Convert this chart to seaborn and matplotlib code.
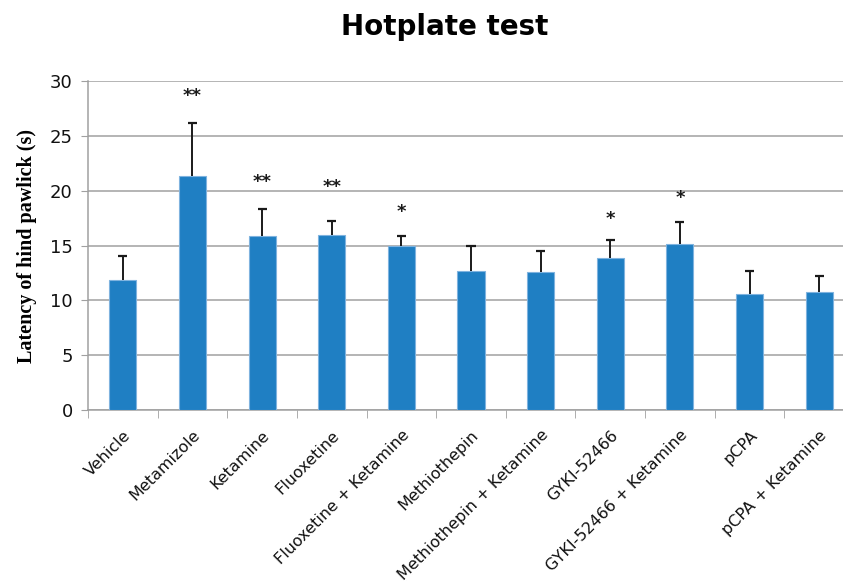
import pandas as pd
import matplotlib.pyplot as plt
import seaborn as sns
import numpy as np

# values
groups = ["Vehicle", "Metamizole", "Ketamine", "Fluoxetine", "Fluoxetine + Ketamine",
          "Methiothepin", "Methiothepin + Ketamine", "GYKI-52466", "GYKI-52466 + Ketamine",
          "pCPA", "pCPA + Ketamine"]
latency = [11.9, 21.35, 15.85, 15.95, 14.95, 12.7, 12.6, 13.9, 15.1, 10.55, 10.8]
sem = [2.1, 4.85, 2.45, 1.25, 0.9, 2.25, 1.9, 1.6, 2.0, 2.1, 1.45]
stars = ["", "**", "**", "**", "*", "", "", "*", "*", "", ""]
star_y = [0, 28.6, 20.8, 20.3, 18.1, 0, 0, 17.4, 19.3, 0, 0]

df = pd.DataFrame({"group": groups, "latency": latency, "sem": sem})
df["top"] = df["latency"] + df["sem"]

sns.set_style("white")
plt.rcParams['font.family'] = ['DejaVu Sans']

fig = plt.figure(figsize=(8.43, 5.86), dpi=100)
ax = fig.add_axes([0.1044, 0.3003, 0.9086, 0.5615])

sns.barplot(data=df, x="group", y="latency", color="#1F7FC3", saturation=1, width=0.39,
            edgecolor="#7FB3DF", linewidth=0.8, errorbar=None, ax=ax, zorder=3)

# upper error bars only, with a cap at the top
x = np.arange(len(groups))
ax.vlines(x, df["latency"], df["top"], color="#1a1a1a", linewidth=1.4, zorder=4)
ax.hlines(df["top"], x - 0.065, x + 0.065, color="#1a1a1a", linewidth=1.6, zorder=4)

for xi, s, sy in zip(x, stars, star_y):
    if s:
        ax.text(xi, sy, s, ha="center", va="center", fontsize=13, fontweight="bold",
                color="#1a1a1a")

ax.set_ylim(0, 30)
ax.set_xlim(-0.5, len(groups) - 0.5)
ax.set_yticks(range(0, 31, 5))
ax.yaxis.grid(True, color="#a0a0a0", linewidth=1.1, zorder=0)
ax.set_axisbelow(True)

for side in ["top", "right"]:
    ax.spines[side].set_visible(False)
ax.spines["left"].set_color("#a0a0a0")
ax.spines["bottom"].set_color("#a0a0a0")
ax.spines["left"].set_linewidth(1.1)
ax.spines["bottom"].set_linewidth(1.1)

ax.tick_params(axis="y", left=True, length=5, color="#a0a0a0", labelsize=13,
               labelcolor="#111111", pad=6)
ax.set_xticks(np.arange(-0.5, len(groups), 1.0), minor=True)
ax.tick_params(axis="x", which="minor", bottom=True, length=6, color="#a0a0a0")
ax.tick_params(axis="x", which="major", bottom=False, pad=9)
ax.set_xticklabels(groups, rotation=45, ha="right", rotation_mode="anchor",
                   fontsize=11.5, color="#111111")

ax.set_xlabel("")
ax.set_ylabel("Latency of hind pawlick (s)", family=["Liberation Serif"],
              fontweight="bold", fontsize=14.5, labelpad=9, color="#000000")

fig.text(0.527, 0.954, "Hotplate test", ha="center", va="center",
         fontsize=20, fontweight="bold", color="#000000")

fig.savefig("out.png", dpi=100)
